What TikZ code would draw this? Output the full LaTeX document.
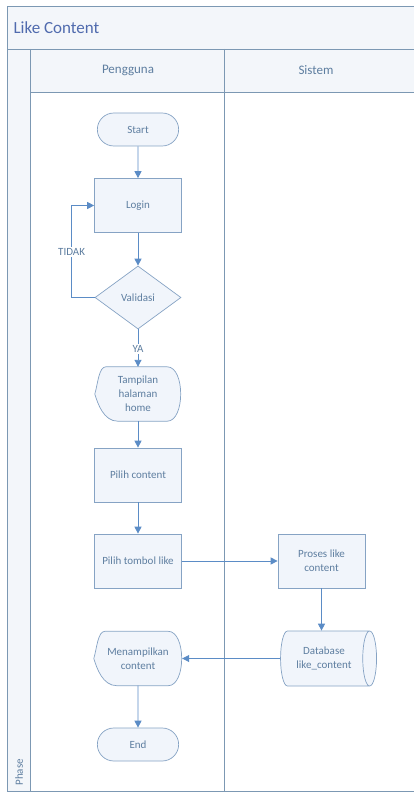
\documentclass[tikz,border=0pt]{standalone}
\usepackage{fontspec}
\setmainfont{Carlito}
\usetikzlibrary{shapes.misc,shapes.geometric,arrows.meta}

\definecolor{framecol}{HTML}{7C98B3}
\definecolor{boxcol}{HTML}{86A3C4}
\definecolor{boxfill}{HTML}{F1F5FB}
\definecolor{arrcol}{HTML}{5B8CC6}
\definecolor{txtcol}{HTML}{5E7EA0}
\definecolor{headfill}{HTML}{F3F6FA}

% outline of a display box, drawn round a named node
\newcommand{\dispshape}[1]{%
\filldraw [draw=boxcol, fill=boxfill, line width=0.7pt]
  ([xshift=11pt]#1.north west) -- ([xshift=-14pt]#1.north east)
  .. controls ([xshift=4pt]#1.north east) and ([xshift=4pt]#1.south east) .. ([xshift=-14pt]#1.south east)
  -- ([xshift=23pt]#1.south west)
  .. controls ([xshift=9pt]#1.south west) and ([xshift=3pt,yshift=-10pt]#1.west) .. (#1.west)
  .. controls ([xshift=3pt,yshift=10pt]#1.west) and ([xshift=4pt]#1.north west) .. ([xshift=11pt]#1.north west) -- cycle;}

\begin{document}
\begin{tikzpicture}[x=1pt,y=1pt,
  every node/.style={text=txtcol, font=\fontsize{11}{14}\selectfont, align=center},
  proc/.style={draw=boxcol, fill=boxfill, line width=0.7pt, minimum width=87pt, minimum height=54pt, inner sep=2pt},
  term/.style={rounded rectangle, draw=boxcol, fill=boxfill, line width=0.7pt, minimum width=88pt, minimum height=33pt},
  decision/.style={diamond, draw=boxcol, fill=boxfill, line width=0.7pt, minimum width=86pt, minimum height=63pt, inner sep=0pt},
  disp/.style={minimum width=86pt, minimum height=54pt, inner sep=0pt},
  store/.style={cylinder, draw=boxcol, fill=boxfill, line width=0.7pt, minimum width=55pt, minimum height=96pt, aspect=0.55, inner sep=1pt},
  flow/.style={draw=arrcol, line width=0.9pt, -{Triangle[length=7pt,width=7pt]}},
  lbl/.style={fill=white, inner sep=1pt},
  lane/.style={draw=framecol, line width=0.8pt}
]
\useasboundingbox (0,0) rectangle (414,-794);

% pool and lanes
\fill [headfill] (7,-6) rectangle (414,-49);
\fill [headfill] (30,-49) rectangle (414,-92);
\fill [headfill] (7,-49) rectangle (30,-791);
\draw [lane] (414,-6) -- (7,-6) -- (7,-791) -- (414,-791);
\draw [lane] (7,-49) -- (414,-49);
\draw [lane] (30,-92) -- (414,-92);
\draw [lane] (30,-49) -- (30,-791);
\draw [lane] (224,-49) -- (224,-791);
\node (title) [anchor=west, text=txtcol!85!blue, font=\fontsize{17}{20}\selectfont] at (10,-27.5) {Like Content};
\node (pengguna) [font=\fontsize{13}{15}\selectfont] at (128,-70.5) {Pengguna};
\node (sistem) [font=\fontsize{13}{15}\selectfont] at (316,-70.5) {Sistem};
\node (phase) [rotate=90, anchor=west, font=\fontsize{11}{13}\selectfont] at (19,-789) {Phase};

% nodes
\node (start) [term] at (138,-129.5) {Start};
\node (login) [proc] at (138,-205.5) {Login};
\node (valid) [decision] at (138,-297.5) {Validasi};
\node (tampil) [disp] at (138,-394) {};
\dispshape{tampil}
\node (tampiltxt) at (tampil) {Tampilan\\halaman\\home};
\node (pilih) [proc] at (138,-475) {Pilih content};
\node (tombol) [proc] at (138,-561) {Pilih tombol like};
\node (proses) [proc] at (321.5,-561) {Proses like\\content};
\node (db) [store] at (324,-658.5) {Database\\like\_content};
\node (hasil) [disp, minimum width=88pt] at (138,-658.5) {};
\dispshape{hasil}
\node (hasiltxt) at (hasil) {Menampilkan\\content};
\node (end) [term] at (138,-744.5) {End};

% connectors
\draw [flow] (start) -- (login);
\draw [flow] (login) -- (valid);
\draw [flow] (valid.west) -- ++(-23,0) coordinate (back) |- (login.west);
\node (tidak) [lbl] at (back |- 0,-252) {TIDAK};
\draw [flow] (valid) -- (tampil.north);
\node (ya) [lbl] at (138,-349) {YA};
\draw [flow] (tampil.south) -- (pilih);
\draw [flow] (pilih) -- (tombol);
\draw [flow] (tombol) -- (proses);
\draw [flow] (proses.south) -- (proses.south |- db.north);
\draw [flow] (db.west) -- (hasil.east);
\draw [flow] (hasil.south) -- (end);
\end{tikzpicture}
\end{document}
